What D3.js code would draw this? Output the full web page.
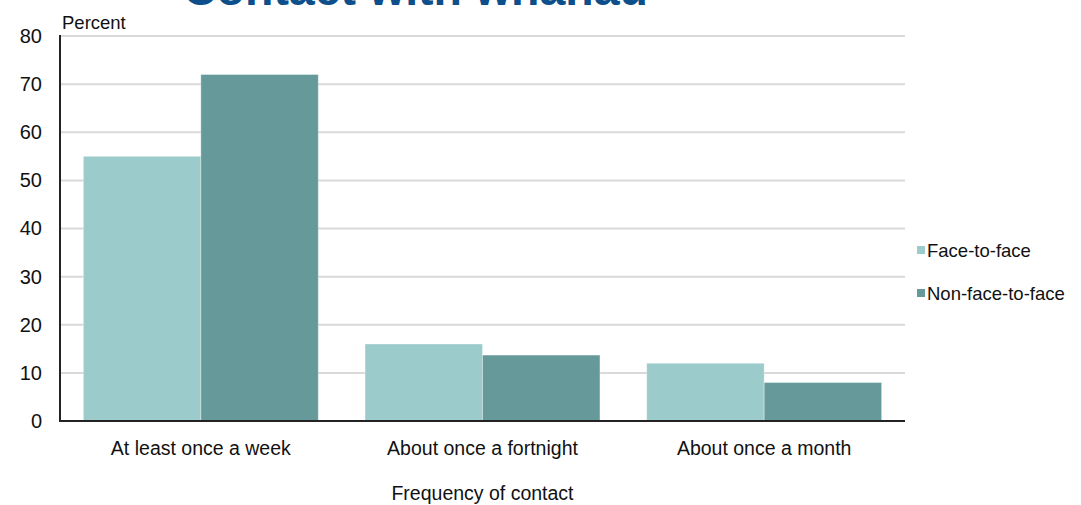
<!DOCTYPE html>
<html>
<head>
<meta charset="utf-8">
<script src="https://cdn.jsdelivr.net/npm/d3@7"></script>
<style>
  html, body { margin: 0; padding: 0; background: #fff; }
  svg { display: block; }
  text { font-family: "Liberation Sans", Arial, sans-serif; fill: #111; }
</style>
</head>
<body>
<svg id="chart" width="1081" height="505"></svg>
<script>
const categories = ["At least once a week", "About once a fortnight", "About once a month"];
const seriesNames = ["Face-to-face", "Non-face-to-face"];
const faceToFace = [55, 16, 12];
const nonFaceToFace = [72, 13.7, 8];
const yTicks = [0, 10, 20, 30, 40, 50, 60, 70, 80];
const colors = ["#9bcbcb", "#669999"];
const title = "Contact with whānau";
const yTitle = "Percent";
const xTitle = "Frequency of contact";

const svg = d3.select("#chart");
const mLeft = 60, mRight = 905, mTop = 36, mBottom = 421;

const x = d3.scaleBand().domain(categories).range([mLeft, mRight]).paddingInner(0.166).paddingOuter(0.083);
const xs = d3.scaleBand().domain(seriesNames).range([0, x.bandwidth()]).padding(0);
const y = d3.scaleLinear().domain([0, 80]).range([mBottom, mTop]);
const color = d3.scaleOrdinal().domain(seriesNames).range(colors);

// Title (cut off at top, as in the source image)
svg.append("text").attr("x", 183).attr("y", 5)
  .style("font-size", "46.5px").style("font-weight", "bold").style("fill", "#0d4f8b")
  .text(title);

// gridlines
svg.append("g").selectAll("line").data(yTicks.filter(d => d > 0)).join("line")
  .attr("x1", mLeft).attr("x2", mRight)
  .attr("y1", d => y(d)).attr("y2", d => y(d))
  .attr("stroke", "#d9d9d9").attr("stroke-width", 2);

// y tick labels via axis
const yAxis = svg.append("g").attr("transform", `translate(${mLeft},0)`)
  .call(d3.axisLeft(y).tickValues(yTicks).tickSize(0).tickPadding(18));
yAxis.select(".domain").remove();
yAxis.selectAll("text").style("font-size", "20px").style("font-family", '"Liberation Sans", Arial, sans-serif').attr("fill", "#111");

// bars
const rows = categories.map((c, i) => ({ cat: c, vals: [faceToFace[i], nonFaceToFace[i]] }));
svg.append("g").selectAll("g").data(rows).join("g")
  .attr("transform", d => `translate(${x(d.cat)},0)`)
  .selectAll("rect").data(d => d.vals.map((v, j) => ({ s: seriesNames[j], v })))
  .join("rect")
  .attr("x", d => xs(d.s)).attr("width", xs.bandwidth())
  .attr("y", d => y(d.v)).attr("height", d => y(0) - y(d.v))
  .attr("fill", d => color(d.s))
  .attr("stroke", "#ffffff").attr("stroke-opacity", 0.35).attr("stroke-width", 1);

// axes lines
svg.append("line").attr("x1", mLeft).attr("x2", mLeft).attr("y1", mTop - 1).attr("y2", mBottom + 1)
  .attr("stroke", "#222").attr("stroke-width", 2);
svg.append("line").attr("x1", mLeft - 1).attr("x2", mRight).attr("y1", mBottom).attr("y2", mBottom)
  .attr("stroke", "#222").attr("stroke-width", 2);

// x category labels via axis
const xAxis = svg.append("g").attr("transform", `translate(0,${mBottom})`)
  .call(d3.axisBottom(x).tickSize(0).tickPadding(20));
xAxis.select(".domain").remove();
xAxis.selectAll("text").style("font-size", "19.5px").style("font-family", '"Liberation Sans", Arial, sans-serif').attr("fill", "#111");

// axis titles
svg.append("text").attr("x", 62).attr("y", 29).style("font-size", "18.5px").text(yTitle);
svg.append("text").attr("x", (mLeft + mRight) / 2).attr("y", 500).attr("text-anchor", "middle")
  .style("font-size", "19.5px").text(xTitle);

// legend
const legendY = [250, 293];
const lg = svg.append("g").selectAll("g").data(seriesNames).join("g")
  .attr("transform", (d, i) => `translate(917,${legendY[i]})`);
lg.append("rect").attr("x", 0).attr("y", -4).attr("width", 8).attr("height", 8).attr("fill", d => color(d));
lg.append("text").attr("x", 10).attr("y", 6.5).style("font-size", "18.5px").text(d => d);
</script>
</body>
</html>
